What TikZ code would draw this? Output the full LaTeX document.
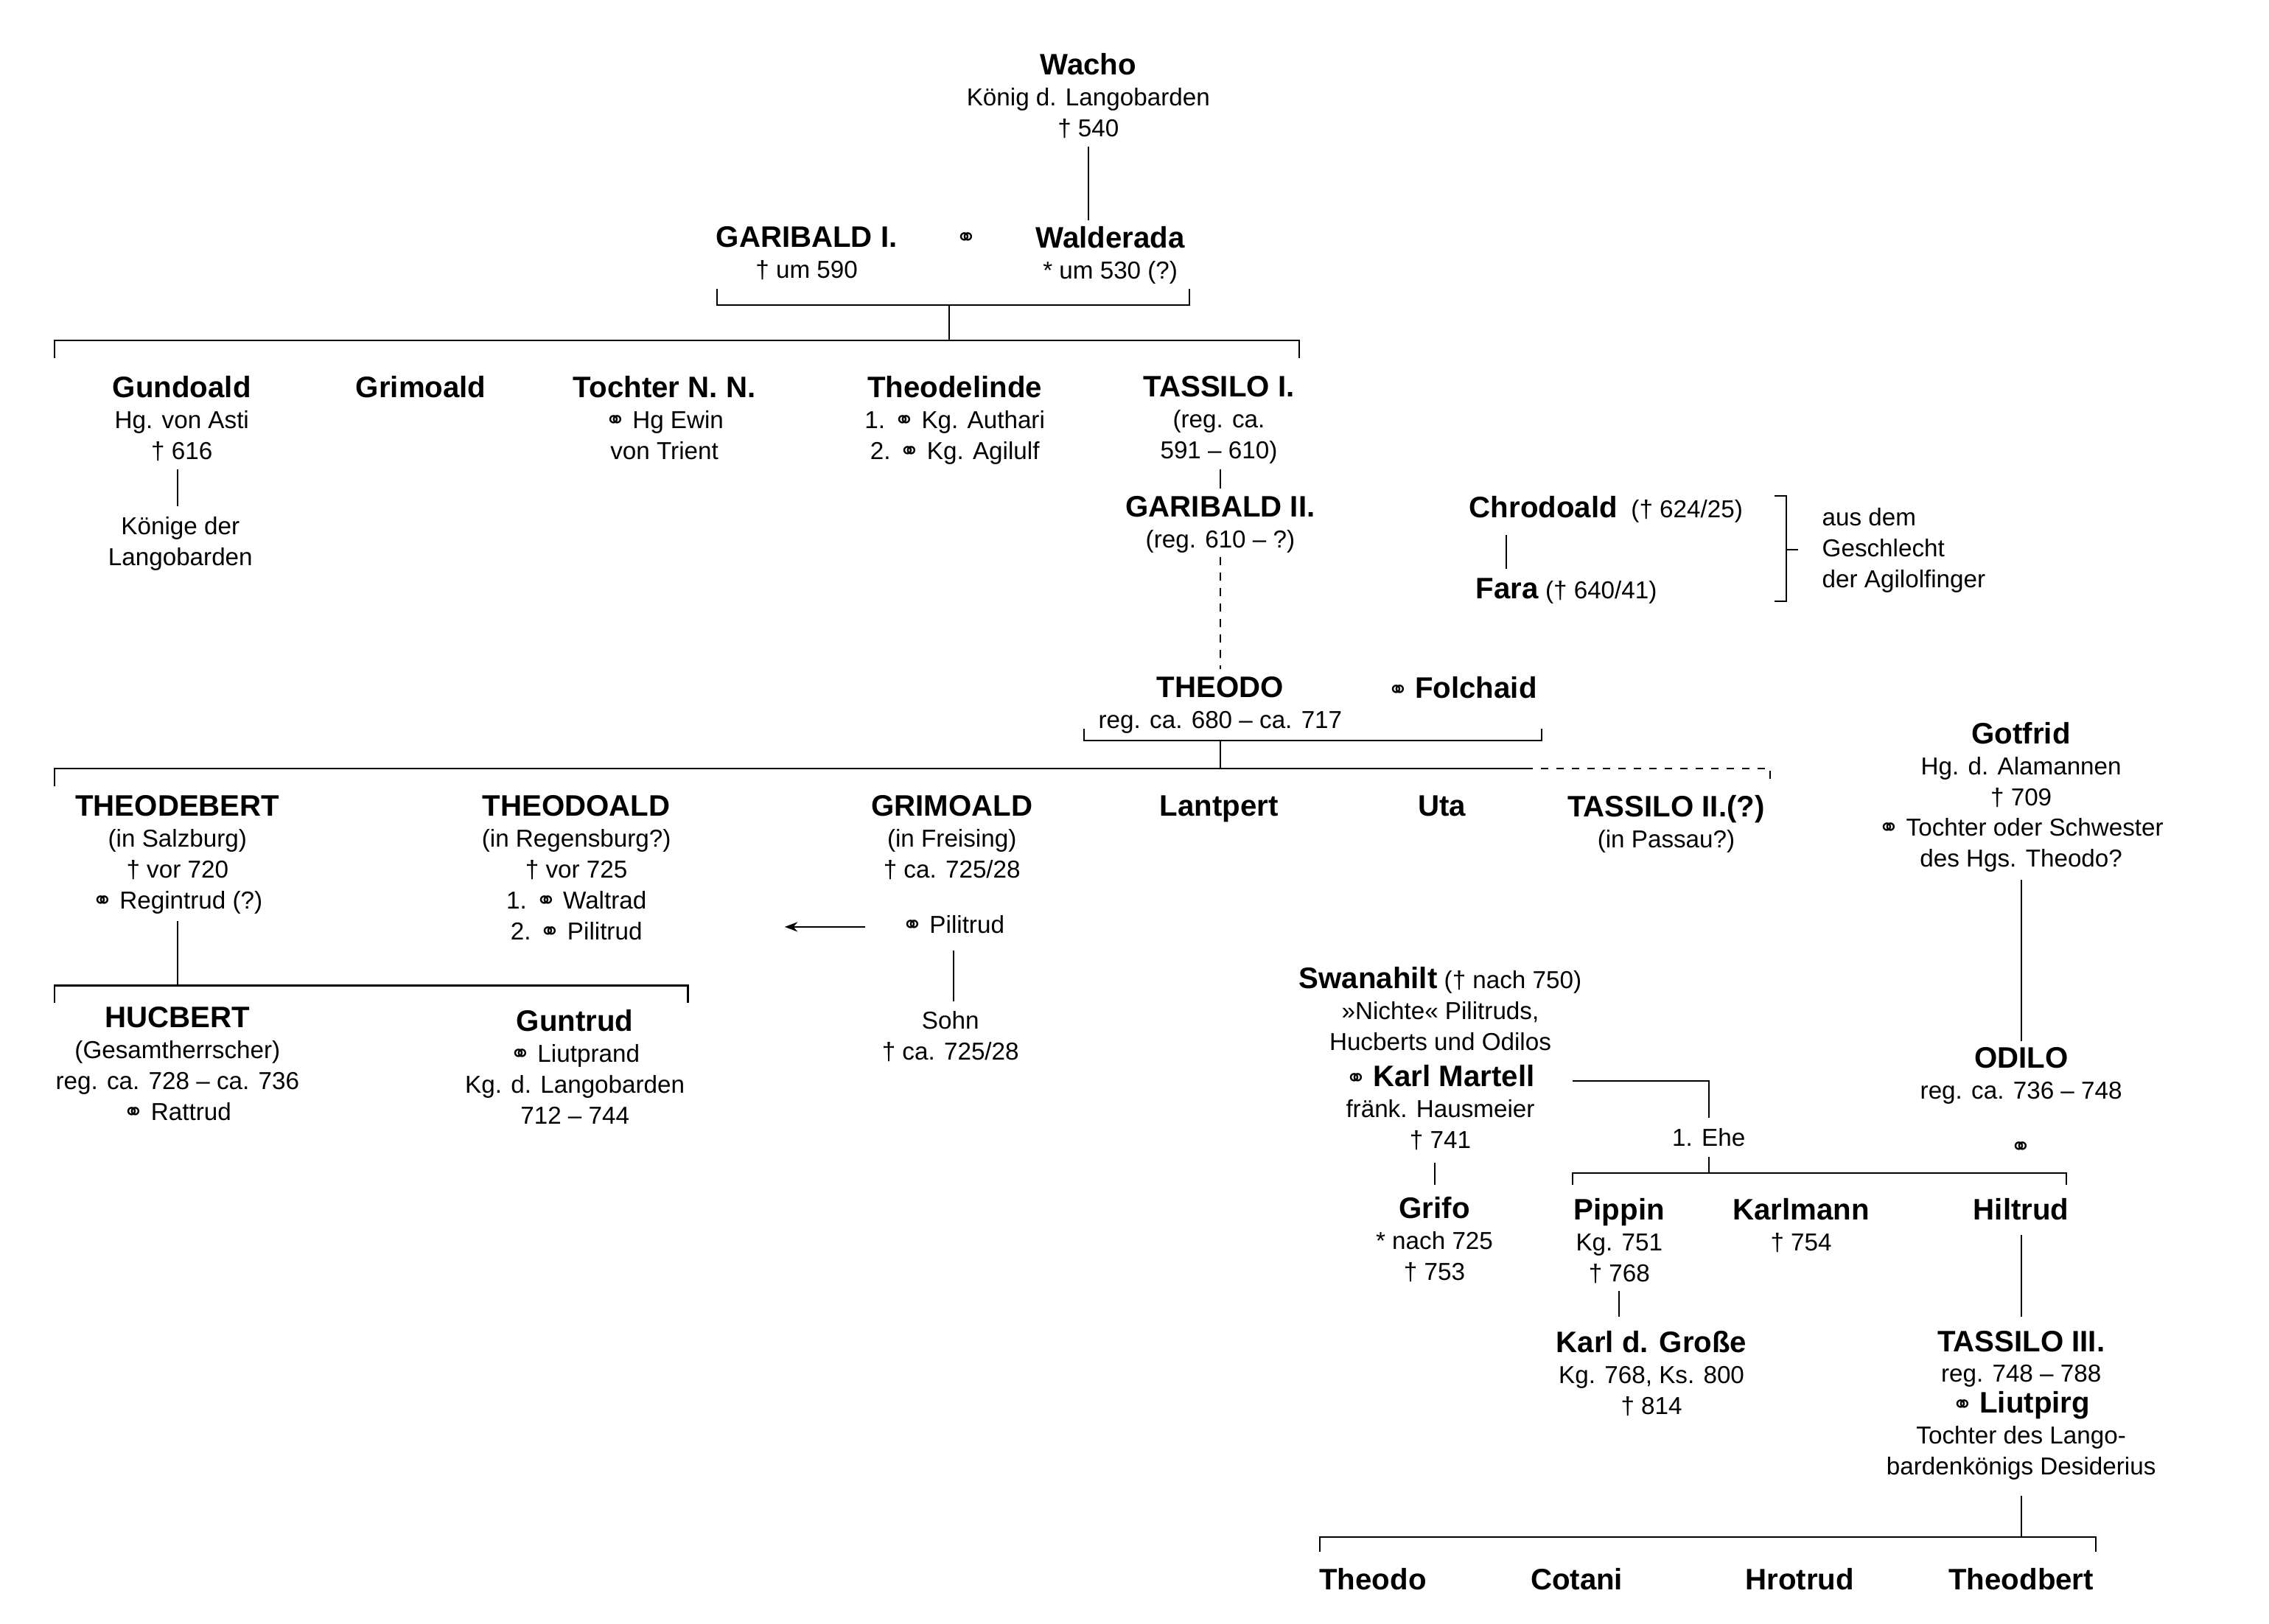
\documentclass[tikz,border=0pt]{standalone}
\usepackage{fontspec}
\setmainfont{Liberation Sans}
\newfontfamily\symfont{DejaVu Sans}
\usetikzlibrary{arrows.meta}
\newcommand{\oo}{{\symfont\char"26AD}}
\newcommand{\nm}[1]{{\fontsize{11.5}{12}\selectfont\bfseries #1}}
\begin{document}
\begin{tikzpicture}[x=0.02cm,y=-0.02cm,
	fam/.style={anchor=north,align=center,inner sep=0pt,font=\fontsize{9.5}{12}\selectfont},
	side/.style={anchor=north west,align=left,inner sep=0pt,font=\fontsize{9.5}{12}\selectfont},
	ln/.style={line width=0.6pt}]
	\useasboundingbox (0,0) rectangle (1547,1107);

	% first generations
	\node[fam] (wacho) at (742,36) {\nm{Wacho}\\König d. Langobarden\\† 540};
	\node[fam] (garI) at (550,154) {\nm{GARIBALD I.}\\† um 590};
	\node[fam] (wald) at (757,154) {\nm{Walderada}\\* um 530 (?)};
	\node[fam] (m1) at (659,158) {\oo};
	\draw[ln] (742,100) -- (742,150);
	\draw[ln] (489,197) -- (489,208) -- (811,208) -- (811,197);
	\draw[ln] (647,208) -- (647,232);
	\draw[ln] (37,244) -- (37,232) -- (886,232) -- (886,244);

	\node[fam] (gund) at (124,256) {\nm{Gundoald}\\Hg. von Asti\\† 616};
	\node[fam] (grimI) at (287,256) {\nm{Grimoald}};
	\node[fam] (tocht) at (453,256) {\nm{Tochter N. N.}\\\oo{} Hg Ewin\\von Trient};
	\node[fam] (theodel) at (651,256) {\nm{Theodelinde}\\1. \oo{} Kg. Authari\\2. \oo{} Kg. Agilulf};
	\node[fam] (tasI) at (831,256) {\nm{TASSILO I.}\\(reg. ca.\\591 -- 610)};
	\node[fam] (koen) at (123,352) {Könige der\\Langobarden};
	\draw[ln] (121,320) -- (121,345);
	\node[fam] (garII) at (832,338) {\nm{GARIBALD II.}\\(reg. 610 -- ?)};
	\draw[ln] (832,320) -- (832,333);
	\draw[ln,dashed] (832,380) -- (832,456);

	% Agilolfinger
	\node[fam] (chrod) at (1095,338) {\nm{Chrodoald} \ († 624/25)};
	\node[fam] (fara) at (1068,394) {\nm{Fara} († 640/41)};
	\draw[ln] (1027,365) -- (1027,388);
	\draw[ln] (1210,338) -- (1218,338) -- (1218,410) -- (1210,410);
	\draw[ln] (1218,375) -- (1226,375);
	\node[side] (agil) at (1242,346) {aus dem\\Geschlecht\\der Agilolfinger};

	% Theodo
	\node[fam] (theodo) at (832,461) {\nm{THEODO}\\reg. ca. 680 -- ca. 717};
	\node[fam] (folch) at (997,461) {\oo{} \nm{Folchaid}};
	\draw[ln] (739,497) -- (739,505) -- (1051,505) -- (1051,497);
	\draw[ln] (832,505) -- (832,524);
	\draw[ln] (37,536) -- (37,524) -- (1040,524);
	\draw[ln,dashed] (1040,524) -- (1207,524) -- (1207,536);

	\node[fam] (thbert) at (121,542) {\nm{THEODEBERT}\\(in Salzburg)\\† vor 720\\\oo{} Regintrud (?)};
	\node[fam] (thoald) at (393,542) {\nm{THEODOALD}\\(in Regensburg?)\\† vor 725\\1. \oo{} Waltrad\\2. \oo{} Pilitrud};
	\node[fam] (grimII) at (649,542) {\nm{GRIMOALD}\\(in Freising)\\† ca. 725/28};
	\node[fam] (pili) at (650,624) {\oo{} Pilitrud};
	\draw[ln,-{Stealth[length=5pt]}] (590,632) -- (535,632);
	\draw[ln] (650,648) -- (650,683);
	\node[fam] (sohn) at (648,689) {Sohn\\† ca. 725/28};
	\node[fam] (lant) at (831,542) {\nm{Lantpert}};
	\node[fam] (uta) at (983,542) {\nm{Uta}};
	\node[fam] (tasII) at (1136,542) {\nm{TASSILO II.(?)}\\(in Passau?)};

	\draw[ln] (121,628) -- (121,672);
	\draw[ln] (37,684) -- (37,672) -- (469,672) -- (469,684);
	\node[fam] (hucb) at (121,686) {\nm{HUCBERT}\\(Gesamtherrscher)\\reg. ca. 728 -- ca. 736\\\oo{} Rattrud};
	\node[fam] (guntr) at (392,688) {\nm{Guntrud}\\\oo{} Liutprand\\Kg. d. Langobarden\\712 -- 744};

	% Gotfrid and Odilo
	\node[fam] (gotf) at (1378,492) {\nm{Gotfrid}\\Hg. d. Alamannen\\† 709\\\oo{} Tochter oder Schwester\\des Hgs. Theodo?};
	\draw[ln] (1378,600) -- (1378,710);
	\node[fam] (odilo) at (1378,714) {\nm{ODILO}\\reg. ca. 736 -- 748};
	\node[fam] (m2) at (1378,778) {\oo};

	% Swanahilt and Karl Martell
	\node[fam] (swan) at (982,659) {\nm{Swanahilt} († nach 750)\\»Nichte« Pilitruds,\\Hucberts und Odilos};
	\node[fam] (kmart) at (982,726) {\oo{} \nm{Karl Martell}\\fränk. Hausmeier\\† 741};
	\draw[ln] (1072,737) -- (1165,737) -- (1165,762);
	\node[fam] (ehe) at (1165,769) {1. Ehe};
	\draw[ln] (1165,789) -- (1165,800);
	\draw[ln] (1072,808) -- (1072,800) -- (1409,800) -- (1409,808);
	\draw[ln] (978,793) -- (978,808);
	\node[fam] (grifo) at (978,816) {\nm{Grifo}\\* nach 725\\† 753};
	\node[fam] (pipp) at (1104,817) {\nm{Pippin}\\Kg. 751\\† 768};
	\node[fam] (karlm) at (1228,817) {\nm{Karlmann}\\† 754};
	\node[fam] (hiltr) at (1378,817) {\nm{Hiltrud}};
	\draw[ln] (1104,880) -- (1104,898);
	\node[fam] (karlg) at (1126,907) {\nm{Karl d. Große}\\Kg. 768, Ks. 800\\† 814};
	\draw[ln] (1378,842) -- (1378,898);
	\node[fam] (tasIII) at (1378,907) {\nm{TASSILO III.}\\reg. 748 -- 788\\\oo{} \nm{Liutpirg}\\Tochter des Lango-\\bardenkönigs Desiderius};
	\draw[ln] (1378,1020) -- (1378,1048);
	\draw[ln] (900,1058) -- (900,1048) -- (1429,1048) -- (1429,1058);
	\node[fam] (c1) at (936,1069) {\nm{Theodo}};
	\node[fam] (c2) at (1075,1069) {\nm{Cotani}};
	\node[fam] (c3) at (1227,1069) {\nm{Hrotrud}};
	\node[fam] (c4) at (1378,1069) {\nm{Theodbert}};
\end{tikzpicture}
\end{document}
